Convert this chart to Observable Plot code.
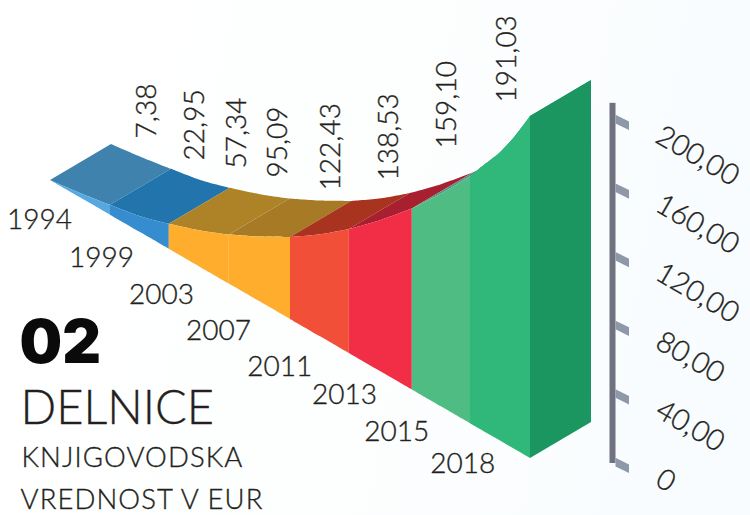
<!DOCTYPE html>
<html><head><meta charset="utf-8">
<style>
html,body{margin:0;padding:0;width:750px;height:515px;overflow:hidden;background:linear-gradient(100deg,#fff 0%,#fdfefe 50%,#f8fcff 100%);}
svg{display:block;background:transparent!important;}
g[aria-description="caption"] text{letter-spacing:1.1px;}
</style>
<script src="https://cdn.jsdelivr.net/npm/d3@7"></script>
<script src="https://cdn.jsdelivr.net/npm/@observablehq/plot@0.6"></script>
</head><body><div id="chart"></div>
<script>
const years = ["1994","1999","2003","2007","2011","2013","2015","2018"];
const valueLabels = ["7,38","22,95","57,34","95,09","122,43","138,53","159,10","191,03"];
// ribbon profile, in axis units, at stations along the floor
const stations = [0,.5,1,1.5,1.98,2.48,2.98,3.5,4,4.5,4.98,5.5,6.03,6.52,7,7.25,7.5,7.75,8];
const drawnHeight = [0,2.6,5.8,9.3,14.6,21,28.6,37.9,47.8,59.5,72.3,88,105.5,124.2,144,156.2,168.2,182.7,199.4];
const segmentStart = [0,2,4,6,8,10,12,14,18];
const axisTicks = [0,40,80,120,160,200];
const axisLabels = ["0","40,00","80,00","120,00","160,00","200,00"];
const frontColors = ["#55a9e0","#358dcf","#ffad2c","#ffad2c","#f24f39","#f22e46","#4fbc84","#2fb87a"];
const topColors = ["#3f82ae","#2175ac","#ae8328","#a77a26","#a8331f","#a81f2f","#5a9487","#1c9660"];
const endColor = "#1c9660";
// label anchors along the stations / axis units
const valueLabelStation = [1.608,2.417,3.108,3.792,4.683,5.642,6.608,7.608];
const valueLabelBase = [24.5,11.7,7,1.75,-5.8,0,18.7,45.5];
const yearLabelStation = [-0.183,0.85,1.85,2.8,3.82,4.9,5.77,6.87];
const yearLabelLevel = [-23.3,-45.2,-66.5,-88,-108.5,-125,-146.4,-165.5];

const PXX = 60, PXY = 1.715;           // px per station, px per axis unit
const floorDrop = 20.26;               // axis units the floor falls per station
const depthX = 61/PXX, depthY = 36/PXY;
const floorAt = s => -floorDrop * s;

const rows = [];
years.forEach((yr,j)=>{
  for (let k=segmentStart[j];k<=segmentStart[j+1];k++){
    rows.push({seg:yr, j, s:stations[k], floor:floorAt(stations[k]), top:floorAt(stations[k])+drawnHeight[k],
      front:frontColors[j], topc:topColors[j]});
  }
});
const last = stations.length-1;
const endRows = [0,1].map(t=>{
  const s=stations[last];
  return {s:s+t*depthX, floor:floorAt(s)+t*depthY, top:floorAt(s)+drawnHeight[last]+t*depthY};
});
const barL=9.325, barR=9.425, tickR=9.65, tickThick=5, tickFall=3.9;
const tickRows = axisTicks.flatMap(v=>[
  {v,s:barR,y1:v-162,y2:v-162-tickThick},
  {v,s:tickR,y1:v-162-tickFall,y2:v-162-tickThick-tickFall}
]);

const font = "Lato, sans-serif";
const light = {fontFamily:font, fontWeight:300, fill:"#231f20", stroke:"#231f20", strokeWidth:0.35};
const plot = Plot.plot({
  width:750, height:515, margin:0,
  style:{background:"transparent"},
  x:{domain:[-50/PXX,700/PXX], range:[0,750], axis:null},
  y:{domain:[180/PXY,(180-515)/PXY], range:[0,515], axis:null},
  color:{type:"identity"},
  marks:[
    Plot.area(rows,{x1:d=>d.s,y1:d=>d.top,x2:d=>d.s+depthX,y2:d=>d.top+depthY,z:"seg",fill:"topc",curve:"catmull-rom"}),
    Plot.area(rows,{x1:"s",y1:"floor",x2:"s",y2:"top",z:"seg",fill:"front",curve:"catmull-rom"}),
    Plot.area(endRows,{x1:"s",y1:"floor",x2:"s",y2:"top",fill:endColor}),
    Plot.rect([0],{x1:barL,x2:barR,y1:45,y2:-165,fill:"#6f7380"}),
    Plot.area(tickRows,{x1:"s",y1:"y1",x2:"s",y2:"y2",z:"v",fill:"#8f98a9"}),
    Plot.text(axisTicks,{x:10.13,y:d=>d-172.5,text:(d,i)=>axisLabels[i],rotate:30,textAnchor:"start",fontSize:29,...light}),
    Plot.text(years,{x:(d,i)=>yearLabelStation[i],y:(d,i)=>yearLabelLevel[i],text:d=>d,fontSize:28,textAnchor:"middle",...light}),
    Plot.text(valueLabels,{x:(d,i)=>valueLabelStation[i],y:(d,i)=>valueLabelBase[i],text:d=>d,rotate:-90,textAnchor:"start",fontSize:28,...light}),
    Plot.text(["02"],{frameAnchor:"top-left",dx:19,dy:343,lineAnchor:"middle",textAnchor:"start",fontFamily:"Inter, sans-serif",fontWeight:900,fontSize:60,fill:"#0a0a0a"}),
    Plot.text(["DELNICE"],{frameAnchor:"top-left",dx:20,dy:408,lineAnchor:"middle",textAnchor:"start",fontSize:47,...light}),
    Plot.text(["KNJIGOVODSKA"],{ariaDescription:"caption",frameAnchor:"top-left",dx:21,dy:458,lineAnchor:"middle",textAnchor:"start",fontSize:27.5,...light}),
    Plot.text(["VREDNOST V EUR"],{ariaDescription:"caption",frameAnchor:"top-left",dx:20,dy:500,lineAnchor:"middle",textAnchor:"start",fontSize:27.5,...light})
  ]
});
document.getElementById("chart").appendChild(plot);
</script></body></html>
